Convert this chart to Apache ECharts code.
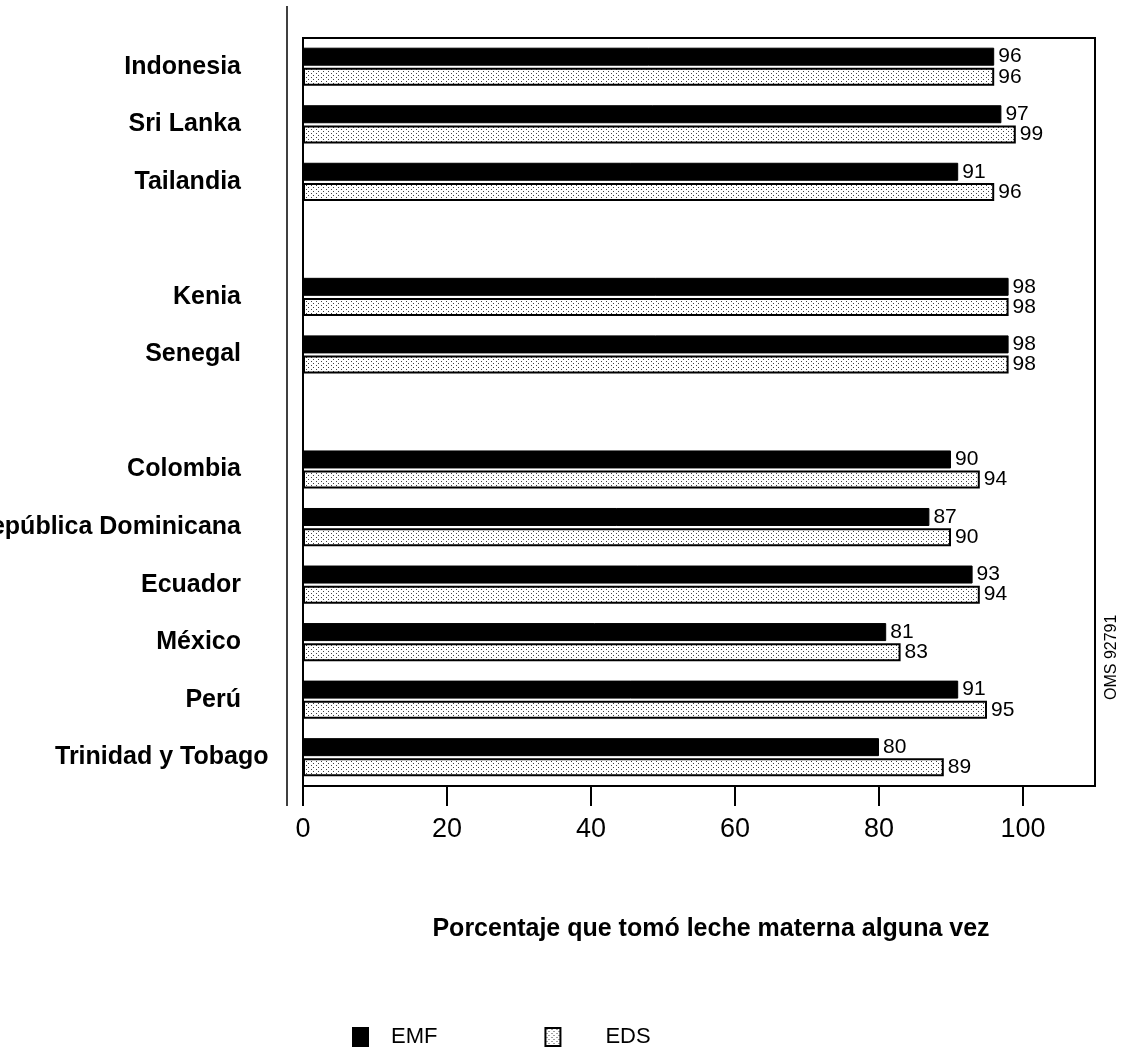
<!DOCTYPE html>
<html>
<head>
<meta charset="utf-8">
<script src="https://cdn.jsdelivr.net/npm/echarts@6/dist/echarts.min.js"></script>
<style>
html,body{margin:0;padding:0;background:#fff;}
#chart{width:1130px;height:1056px;}
</style>
</head>
<body>
<div id="chart"></div>
<script>
const categories = ["Indonesia", "Sri Lanka", "Tailandia", "", "Kenia", "Senegal", " ",
  "Colombia", "República Dominicana", "Ecuador", "México", "Perú", "Trinidad y Tobago"];
const emf = [96, 97, 91, null, 98, 98, null, 90, 87, 93, 81, 91, 80];
const eds = [96, 99, 96, null, 98, 98, null, 94, 90, 94, 83, 95, 89];
const xTicks = [0, 20, 40, 60, 80, 100];
const seriesNames = ["EMF", "EDS"];
const axisTitle = "Porcentaje que tomó leche materna alguna vez";
const sideNote = "OMS 92791";

const pc = document.createElement('canvas');
pc.width = 5; pc.height = 4;
const g = pc.getContext('2d');
g.fillStyle = '#ffffff'; g.fillRect(0, 0, 5, 4);
g.fillStyle = '#444444';
g.fillRect(1, 1, 1, 1); g.fillRect(3, 3, 1, 1);
const dotted = { image: pc, repeat: 'repeat' };

const FONT = '"Liberation Sans", Arial, Helvetica, sans-serif';

const chart = echarts.init(document.getElementById('chart'), null, { renderer: 'canvas' });
chart.setOption({
  backgroundColor: '#ffffff',
  animation: false,
  grid: { left: 303, right: 35, top: 38, bottom: 270, show: true, borderColor: '#000', borderWidth: 2,
    containLabel: false, outerBoundsMode: 'none' },
  xAxis: {
    type: 'value', min: 0, max: 110, interval: 20,
    name: axisTitle, nameLocation: 'middle', nameGap: 131,
    nameTextStyle: { fontFamily: FONT, fontSize: 25, fontWeight: 'bold', color: '#000', padding: [0, 0, 0, 24] },
    axisLine: { show: true, lineStyle: { color: '#000', width: 2 } },
    axisTick: { show: true, inside: false, length: 20, lineStyle: { color: '#000', width: 2 }, customValues: xTicks },
    axisLabel: { margin: 30, fontFamily: FONT, fontSize: 27, color: '#000', customValues: xTicks },
    splitLine: { show: false }
  },
  yAxis: {
    type: 'category', inverse: true, data: categories,
    axisLine: { show: false }, axisTick: { show: false },
    axisLabel: {
      margin: 62, fontFamily: FONT, fontSize: 25, fontWeight: 'bold', color: '#000',
      formatter: function (v) { return v === 'Trinidad y Tobago' ? '{t|' + v + '}' : v; },
      rich: { t: { fontFamily: FONT, fontSize: 25, fontWeight: 'bold', color: '#000', width: 186, align: 'left' } }
    },
    splitLine: { show: false }
  },
  legend: {
    left: 347, top: 1021, itemWidth: 15, itemHeight: 18, itemGap: 107,
    textStyle: { fontFamily: FONT, fontSize: 22, color: '#000' },
    data: [
      { name: seriesNames[0], icon: 'rect', textStyle: { padding: [0, 0, 0, 18] } },
      { name: seriesNames[1], icon: 'rect', textStyle: { padding: [0, 0, 0, 40] } }
    ]
  },
  series: [
    {
      name: seriesNames[0], type: 'bar', data: emf, barWidth: 18, barGap: '12%',
      itemStyle: { color: '#000', borderColor: '#000', borderWidth: 1 },
      label: { show: true, position: 'right', distance: 4, fontFamily: FONT, fontSize: 21, color: '#000' }
    },
    {
      name: seriesNames[1], type: 'bar', data: eds, barWidth: 18,
      itemStyle: { color: dotted, borderColor: '#000', borderWidth: 2 },
      label: { show: true, position: 'right', distance: 4, fontFamily: FONT, fontSize: 21, color: '#000' }
    }
  ],
  graphic: [
    { type: 'line', shape: { x1: 287, y1: 6, x2: 287, y2: 806 }, style: { stroke: '#000', lineWidth: 1.5 } },
    { type: 'text', x: 1112, y: 700, rotation: Math.PI / 2,
      style: { text: sideNote, fontFamily: FONT, fontSize: 16, fill: '#000', textAlign: 'left', textVerticalAlign: 'middle' } }
  ]
});
</script>
</body>
</html>
